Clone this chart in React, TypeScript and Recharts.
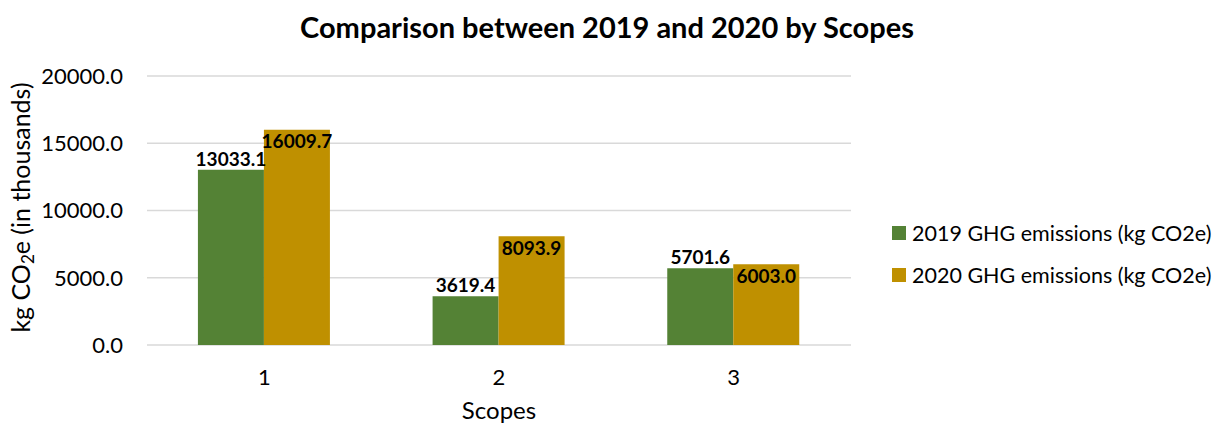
import React from "react";
import {
  BarChart,
  Bar,
  XAxis,
  YAxis,
  CartesianGrid,
  LabelList,
} from "recharts";

const scopes = ["1", "2", "3"];
const emissions2019 = [13033.1, 3619.4, 5701.6];
const emissions2020 = [16009.7, 8093.9, 6003.0];
const yTicks = [0, 5000, 10000, 15000, 20000];

const seriesNames = [
  "2019 GHG emissions (kg CO2e)",
  "2020 GHG emissions (kg CO2e)",
];
const seriesColors = ["#548235", "#BF9000"];

const data = scopes.map((s, i) => ({
  scope: s,
  y2019: emissions2019[i],
  y2020: emissions2020[i],
}));

const FONT = "Lato, 'Open Sans', sans-serif";

const YLabel = (props: any) => {
  const vb = props.viewBox || {};
  const cx = 20;
  const cy = vb.y + vb.height / 2 - 3;
  return (
    <text
      x={cx}
      y={cy}
      transform={`rotate(-90, ${cx}, ${cy})`}
      textAnchor="middle"
      dominantBaseline="central"
      fontSize={25}
      fontFamily={FONT}
      fill="#000"
    >
      kg CO
      <tspan fontSize={17} dy={7}>
        2
      </tspan>
      <tspan dy={-7}>e (in thousands)</tspan>
    </text>
  );
};

const LegendBox = () => (
  <div
    style={{
      position: "absolute",
      left: 892,
      top: 212,
      fontFamily: FONT,
      fontSize: 21.5,
      color: "#000",
    }}
  >
    {seriesNames.map((n, i) => (
      <div
        key={n}
        style={{ display: "flex", alignItems: "center", height: 42, whiteSpace: "nowrap" }}
      >
        <span
          style={{
            width: 14,
            height: 14,
            background: seriesColors[i],
            marginRight: 6,
            display: "inline-block",
          }}
        />
        <span>{n}</span>
      </div>
    ))}
  </div>
);

const labelStyle = {
  fontSize: 19,
  fontWeight: 700,
  fontFamily: FONT,
  fill: "#000",
};

export default function App() {
  return (
    <div
      style={{
        position: "absolute",
        left: 0,
        top: 0,
        width: 1214,
        height: 425,
        background: "#fff",
      }}
    >
      <div
        style={{
          position: "absolute",
          left: 0,
          width: 1214,
          top: 9,
          textAlign: "center",
          fontFamily: FONT,
          fontWeight: 700,
          fontSize: 29,
          color: "#000",
        }}
      >
        Comparison between 2019 and 2020 by Scopes
      </div>
      <BarChart
        width={1214}
        height={425}
        data={data}
        margin={{ top: 76, right: 363, bottom: 0, left: 0 }}
        barCategoryGap="21.7%"
        barGap={0}
      >
        <CartesianGrid vertical={false} stroke="#d9d9d9" strokeWidth={1.5} />
        <XAxis
          dataKey="scope"
          axisLine={false}
          tickLine={false}
          tickSize={0}
          tickMargin={24}
          height={80}
          tick={{ fontSize: 22, fontFamily: FONT, fill: "#000" }}
          label={{
            value: "Scopes",
            position: "insideBottom",
            offset: 6,
            fontSize: 24,
            fontFamily: FONT,
            fill: "#000",
          }}
        />
        <YAxis
          width={147}
          domain={[0, 20000]}
          ticks={yTicks}
          axisLine={false}
          tickLine={false}
          tickSize={0}
          tickMargin={24}
          tickFormatter={(v: number) => v.toFixed(1)}
          tick={{ fontSize: 22, fontFamily: FONT, fill: "#000" }}
          label={<YLabel />}
        />
        <Bar
          dataKey="y2019"
          name={seriesNames[0]}
          fill={seriesColors[0]}
          isAnimationActive={false}
        >
          <LabelList
            dataKey="y2019"
            position="top"
            offset={4}
            formatter={(v: number) => v.toFixed(1)}
            style={labelStyle}
          />
        </Bar>
        <Bar
          dataKey="y2020"
          name={seriesNames[1]}
          fill={seriesColors[1]}
          isAnimationActive={false}
        >
          <LabelList
            dataKey="y2020"
            position="insideTop"
            offset={5}
            formatter={(v: number) => v.toFixed(1)}
            style={labelStyle}
          />
        </Bar>
      </BarChart>
      <LegendBox />
    </div>
  );
}
